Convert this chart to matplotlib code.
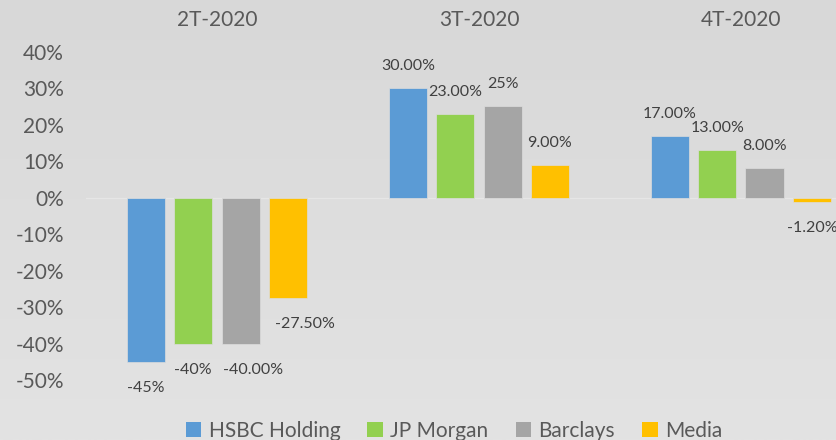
import matplotlib.pyplot as plt
import numpy as np
from matplotlib.patches import Patch

plt.rcParams["font.family"] = ["Lato", "DejaVu Sans"]

quarters = ["2T-2020", "3T-2020", "4T-2020"]
series = ["HSBC Holding", "JP Morgan", "Barclays", "Media"]
hsbc = [-45.0, 30.0, 17.0]
jpm = [-40.0, 23.0, 13.0]
barclays = [-40.0, 25.0, 8.0]
media = [-27.5, 9.0, -1.2]
value_labels = [
    ["-45%", "30.00%", "17.00%"],
    ["-40%", "23.00%", "13.00%"],
    ["-40.00%", "25%", "8.00%"],
    ["-27.50%", "9.00%", "-1.20%"],
]
y_ticks = [-50, -40, -30, -20, -10, 0, 10, 20, 30, 40]

colors = ["#5b9bd5", "#92d050", "#a5a5a5", "#ffc000"]
text_color = "#595959"
label_color = "#404040"

W, H = 836, 440
fig = plt.figure(figsize=(W / 100, H / 100), dpi=100)

# soft vertical gradient background
bg = fig.add_axes([0, 0, 1, 1], zorder=0)
grad = np.linspace(0, 1, 256).reshape(-1, 1)
bg.imshow(grad, aspect="auto", cmap=plt.matplotlib.colors.LinearSegmentedColormap.from_list(
    "bg", ["#d8d8d8", "#e3e3e3"]), extent=[0, 1, 0, 1], origin="upper")
bg.axis("off")

left_px, bottom_px, top_px = 86, 380, 51.7
ax = fig.add_axes([left_px / W, 1 - bottom_px / H, 1 - left_px / W, (bottom_px - top_px) / H], zorder=1)
ax.patch.set_alpha(0)

group_step = 261.7
x = np.arange(len(quarters))
step = 47.3 / group_step
width = 38 / group_step
all_values = [hsbc, jpm, barclays, media]

# label nudges in pixels (dx) for labels moved off-center in the original
nudge = {(2, 0): 12, (3, 0): 17}

for i, (vals, color) in enumerate(zip(all_values, colors)):
    pos = x + (i - 1.5) * step
    ax.bar(pos, vals, width=width, color=color, edgecolor="#dcdcdc", linewidth=0.5,
           label=series[i], zorder=2)
    for j, (p, v) in enumerate(zip(pos, vals)):
        dy = 22 if v >= 0 else -26
        dx = nudge.get((i, j), 0)
        ax.annotate(value_labels[i][j], (p, v), xytext=(dx, dy), textcoords="offset pixels",
                    ha="center", va="center", fontsize=11.5, color=label_color,
                    annotation_clip=False, clip_on=False)

ax.axhline(0, color="#e6e6e6", linewidth=1, zorder=1)

ax.set_xlim(-0.5, (W - 217.5) / group_step)
ax.set_ylim(-50, 40)
ax.set_yticks(y_ticks)
ax.set_yticklabels([f"{t}%" for t in y_ticks], fontsize=15, color=text_color)
ax.tick_params(axis="y", length=0, pad=16)
ax.set_xticks([])
for s in ax.spines.values():
    s.set_visible(False)

for j, q in enumerate(quarters):
    fig.text((217.5 + j * group_step) / W, 1 - 20 / H, q, ha="center", va="center",
             fontsize=15, color=text_color)

handles = [Patch(facecolor=c, edgecolor="none") for c in colors]
leg = fig.legend(handles, series, loc="center", bbox_to_anchor=(454 / W, 1 - 431 / H),
                 ncol=4, frameon=False, fontsize=15, handlelength=0.75, handleheight=0.75,
                 handletextpad=0.35, columnspacing=1.3, labelcolor=text_color)

fig.savefig("out.png", dpi=100)
